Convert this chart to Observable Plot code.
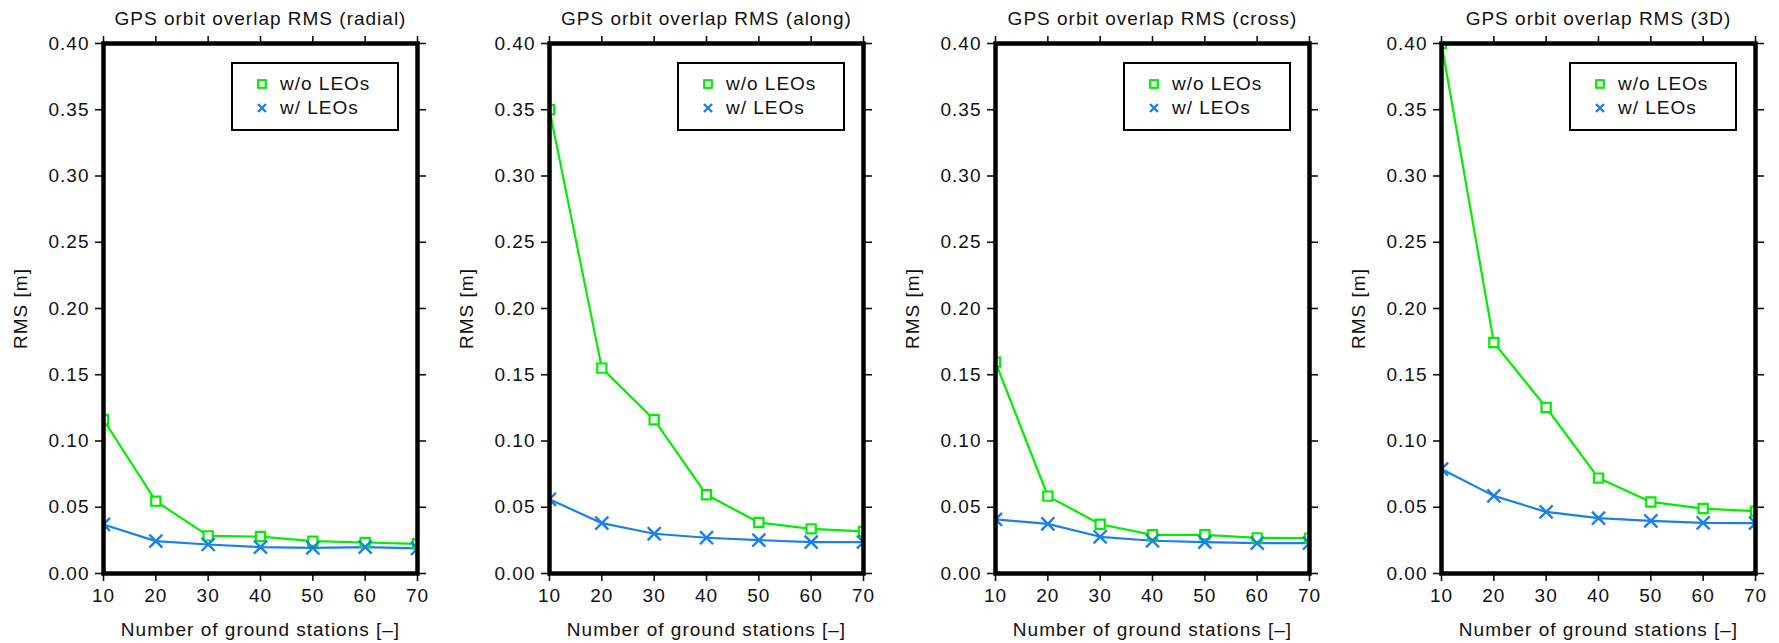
<!DOCTYPE html>
<html>
<head>
<meta charset="utf-8">
<script src="https://cdn.jsdelivr.net/npm/d3@7"></script>
<script src="https://cdn.jsdelivr.net/npm/@observablehq/plot@0.6"></script>
<style>
  html, body { margin: 0; padding: 0; background: #fff; overflow: hidden; }
  #row { display: flex; flex-wrap: nowrap; width: 1779px; height: 643px; }
  .panel { position: relative; flex-shrink: 0; }
  .legend {
    position: absolute; box-sizing: border-box;
    border: 2.5px solid #000; background: #fff;
    font-family: "Liberation Sans", Arial, sans-serif; font-size: 19px; letter-spacing: 1px;
    color: #111;
  }
  .legend .row { position: absolute; left: 0; display: flex; align-items: center; }
  .legend svg { display: block; }
</style>
</head>
<body>
<div id="row"></div>
<script>
// ---- data ----
const stations = [10, 20, 30, 40, 50, 60, 70];
const panelTitles = [
  "GPS orbit overlap RMS (radial)",
  "GPS orbit overlap RMS (along)",
  "GPS orbit overlap RMS (cross)",
  "GPS orbit overlap RMS (3D)"
];
const seriesNames = ["w/o LEOs", "w/ LEOs"];
const radialWithout = [0.116, 0.0546, 0.0284, 0.0279, 0.0244, 0.0234, 0.0224];
const radialWith    = [0.037, 0.0244, 0.0219, 0.0199, 0.0194, 0.0199, 0.0189];
const alongWithout  = [0.350, 0.155, 0.116, 0.0594, 0.0385, 0.0337, 0.0317];
const alongWith     = [0.056, 0.038, 0.030, 0.027, 0.0252, 0.0237, 0.0237];
const crossWithout  = [0.1595, 0.0584, 0.0372, 0.0292, 0.0292, 0.0269, 0.0267];
const crossWith     = [0.0408, 0.0375, 0.0277, 0.0247, 0.0237, 0.0229, 0.0229];
const d3Without     = [0.400, 0.1743, 0.1253, 0.072, 0.054, 0.049, 0.047];
const d3With        = [0.0788, 0.0586, 0.0465, 0.0418, 0.0397, 0.0382, 0.038];
const yTicks = [0, 0.05, 0.10, 0.15, 0.20, 0.25, 0.30, 0.35, 0.40];
const xLabel = "Number of ground stations [–]";
const yLabel = "RMS [m]";

const panelData = [
  [radialWithout, radialWith],
  [alongWithout, alongWith],
  [crossWithout, crossWith],
  [d3Without, d3With]
];

const colors = ["#00ee00", "#1a7ff0"];
const FONT = '"Liberation Sans", Arial, sans-serif';

const row = document.getElementById("row");

panelData.forEach((pair, pi) => {
  const rows = [];
  pair.forEach((vals, si) => {
    vals.forEach((v, i) => rows.push({x: stations[i], y: v, s: seriesNames[si]}));
  });
  const without = rows.filter(d => d.s === seriesNames[0]);
  const withL = rows.filter(d => d.s === seriesNames[1]);

  const W = 446;
  const chart = Plot.plot({
    width: W,
    height: 643,
    marginTop: 43,
    marginBottom: 70,
    marginLeft: 103,
    marginRight: 29,
    style: {fontFamily: FONT, fontSize: "19px", color: "#111", background: "#fff", letterSpacing: "1px"},
    x: {domain: [10, 70], ticks: stations},
    y: {domain: [0, 0.4], ticks: yTicks},
    marks: [
      Plot.axisX({anchor: "bottom", ticks: stations, tickSize: 8, tickPadding: 7, strokeWidth: 1.6,
        tickFormat: d => String(d), label: xLabel, labelAnchor: "center", labelOffset: 62, labelArrow: "none"}),
      Plot.axisX({anchor: "top", ticks: stations, tickSize: 8, strokeWidth: 1.6, tickFormat: () => "", label: null}),
      Plot.axisY({anchor: "left", ticks: yTicks, tickSize: 8, tickPadding: 6, strokeWidth: 1.6,
        tickFormat: d3.format(".2f"), label: yLabel, labelAnchor: "center", labelOffset: 90, labelArrow: "none"}),
      Plot.axisY({anchor: "right", ticks: yTicks, tickSize: 8, strokeWidth: 1.6, tickFormat: () => "", label: null}),
      Plot.line(without, {x: "x", y: "y", stroke: colors[0], strokeWidth: 2.2, clip: true}),
      Plot.line(withL, {x: "x", y: "y", stroke: colors[1], strokeWidth: 2.2, clip: true}),
      Plot.dot(without, {x: "x", y: "y", symbol: "square", r: 5.2, stroke: colors[0], strokeWidth: 2.2, fill: "#fff", clip: true}),
      Plot.dot(withL, {x: "x", y: "y", symbol: "times", r: 6, stroke: colors[1], strokeWidth: 2.4, clip: true}),
      Plot.frame({stroke: "#000", strokeWidth: 4.5}),
      Plot.text([panelTitles[pi]], {frameAnchor: "top", dy: -19, text: d => d, lineAnchor: "bottom", fontSize: 19, fill: "#111"})
    ]
  });

  const panel = document.createElement("div");
  panel.className = "panel";
  panel.style.width = W + "px";
  panel.style.height = "643px";
  panel.appendChild(chart);

  // legend box (HTML overlay)
  const leg = document.createElement("div");
  leg.className = "legend";
  leg.style.left = "231px";
  leg.style.top = "62px";
  leg.style.width = "168px";
  leg.style.height = "69px";
  seriesNames.forEach((name, si) => {
    const r = document.createElement("div");
    r.className = "row";
    r.style.top = (si === 0 ? 9 : 33) + "px";
    r.style.left = "22px";
    const sym = si === 0
      ? `<svg width="14" height="14" viewBox="-7 -7 14 14"><rect x="-3.8" y="-3.8" width="7.6" height="7.6" fill="#fff" stroke="${colors[0]}" stroke-width="2.2"/></svg>`
      : `<svg width="14" height="14" viewBox="-7 -7 14 14"><path d="M-4,-4L4,4M-4,4L4,-4" stroke="${colors[1]}" stroke-width="2.4"/></svg>`;
    r.innerHTML = sym + `<span style="margin-left:11px">${name}</span>`;
    leg.appendChild(r);
  });
  panel.appendChild(leg);
  row.appendChild(panel);
});
</script>
</body>
</html>
